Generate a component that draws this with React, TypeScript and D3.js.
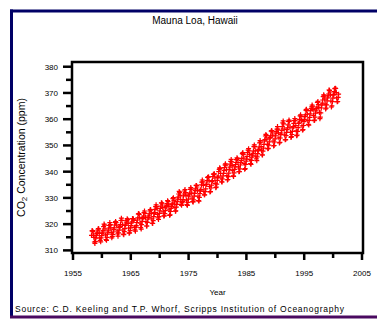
import React from 'react';
import * as d3 from 'd3';

// Mauna Loa monthly CO2 (ppm), one row per year, Jan..Dec (null = no sample)
const startYear = 1958;
const monthlyCO2: (number | null)[][] = [
  [null, null, 315.71, 317.45, 317.5, 317.1, 315.86, 314.93, 313.2, 312.66, 313.33, 314.67],
  [315.62, 316.38, 316.71, 317.72, 318.29, 318.15, 316.54, 314.8, 313.84, 313.26, 314.8, 315.58],
  [316.43, 316.97, 317.58, 319.02, 320.03, 319.59, 318.18, 315.91, 314.16, 313.83, 315.0, 316.19],
  [316.93, 317.7, 318.54, 319.48, 320.58, 319.77, 318.57, 316.79, 314.8, 315.38, 316.1, 317.01],
  [317.94, 318.56, 319.68, 320.63, 321.01, 320.55, 319.58, 317.4, 316.26, 315.42, 316.69, 317.69],
  [318.74, 319.08, 319.86, 321.39, 322.25, 321.47, 319.74, 317.77, 316.21, 315.99, 317.12, 318.31],
  [319.57, 320.07, 320.74, 321.4, 322.06, 321.73, 320.27, 318.54, 316.54, 316.71, 317.53, 318.55],
  [319.44, 320.44, 320.89, 322.13, 322.16, 321.87, 321.39, 318.81, 317.81, 317.3, 318.87, 319.42],
  [320.62, 321.59, 322.39, 323.87, 324.01, 323.75, 322.39, 320.37, 318.64, 318.1, 319.79, 321.08],
  [322.07, 322.5, 323.04, 324.42, 325.0, 324.09, 322.55, 320.92, 319.31, 319.31, 320.72, 321.96],
  [322.57, 323.15, 323.89, 325.02, 325.57, 325.36, 324.14, 322.03, 320.41, 320.25, 321.31, 322.84],
  [324.0, 324.42, 325.64, 326.66, 327.38, 326.7, 325.89, 323.67, 322.38, 321.78, 322.85, 324.12],
  [325.03, 325.99, 326.87, 328.13, 328.07, 327.66, 326.35, 324.69, 323.1, 323.16, 323.98, 325.13],
  [326.17, 326.68, 327.18, 327.78, 328.92, 328.57, 327.34, 325.46, 323.36, 323.57, 324.8, 326.01],
  [326.77, 327.63, 327.75, 329.72, 330.07, 329.09, 328.05, 326.32, 324.93, 325.06, 326.5, 327.55],
  [328.54, 329.56, 330.3, 331.5, 332.48, 332.07, 330.87, 329.31, 327.51, 327.18, 328.16, 328.64],
  [329.35, 330.71, 331.48, 332.65, 333.16, 332.06, 330.99, 329.17, 327.41, 327.2, 328.33, 329.5],
  [330.68, 331.41, 331.85, 333.29, 333.91, 333.4, 331.78, 329.88, 328.57, 328.46, 329.26, 330.67],
  [331.71, 332.76, 333.48, 334.78, 334.78, 334.17, 332.78, 330.64, 328.95, 328.77, 330.23, 331.69],
  [332.7, 333.24, 334.96, 336.04, 336.82, 336.13, 334.73, 332.52, 331.19, 331.19, 332.35, 333.47],
  [335.11, 335.26, 336.6, 337.77, 338.0, 337.99, 336.48, 334.37, 332.27, 332.41, 333.76, 334.83],
  [336.21, 336.64, 338.12, 339.02, 339.02, 339.2, 337.58, 335.55, 333.89, 334.14, 335.26, 336.71],
  [337.81, 338.29, 340.04, 340.86, 341.47, 341.26, 339.29, 337.6, 336.12, 336.08, 337.22, 338.34],
  [339.36, 340.51, 341.57, 342.56, 343.01, 342.47, 340.71, 338.52, 336.85, 337.01, 338.11, 339.4],
  [340.92, 341.69, 342.85, 343.92, 344.67, 343.78, 342.27, 340.35, 338.44, 338.19, 339.57, 340.89],
  [341.82, 342.75, 343.49, 344.55, 345.28, 344.94, 343.41, 341.82, 340.0, 340.01, 341.09, 342.53],
  [343.52, 344.33, 345.11, 346.88, 347.25, 346.62, 345.22, 343.11, 340.9, 341.18, 342.8, 344.04],
  [344.79, 345.82, 347.25, 348.17, 348.74, 347.97, 346.53, 344.63, 343.04, 342.8, 344.24, 345.56],
  [346.29, 346.96, 347.86, 349.55, 350.21, 349.54, 347.94, 345.91, 344.86, 344.17, 345.66, 346.9],
  [348.02, 348.47, 349.42, 350.99, 351.84, 351.25, 349.52, 348.1, 346.44, 346.36, 347.81, 348.96],
  [350.43, 351.73, 352.22, 353.59, 354.22, 353.79, 352.39, 350.44, 348.72, 348.88, 350.07, 351.34],
  [352.76, 353.07, 353.68, 355.42, 355.67, 355.13, 353.9, 351.67, 349.8, 349.99, 351.3, 352.53],
  [353.66, 354.7, 355.39, 356.2, 357.16, 356.22, 354.82, 352.91, 350.96, 351.18, 352.83, 354.21],
  [354.72, 355.75, 357.16, 358.6, 359.34, 358.24, 356.17, 354.03, 352.16, 352.21, 353.75, 354.99],
  [355.98, 356.72, 357.81, 359.15, 359.66, 359.25, 357.03, 355.0, 353.01, 353.31, 354.16, 355.4],
  [356.7, 357.16, 358.38, 359.46, 360.28, 359.6, 357.57, 355.52, 353.7, 353.98, 355.33, 356.8],
  [358.36, 358.91, 359.97, 361.26, 361.68, 360.95, 359.55, 357.49, 355.84, 356.0, 357.58, 359.04],
  [359.97, 361.0, 361.64, 363.45, 363.79, 363.26, 361.9, 359.46, 358.06, 357.75, 359.56, 360.7],
  [362.05, 363.25, 364.03, 364.72, 365.41, 364.97, 363.65, 361.49, 359.46, 359.6, 360.76, 362.33],
  [363.18, 364.0, 364.57, 366.35, 366.79, 365.62, 364.47, 362.51, 360.19, 360.77, 362.43, 364.28],
  [365.32, 366.15, 367.31, 368.61, 369.29, 368.87, 367.64, 365.77, 363.9, 364.23, 365.46, 366.97],
  [368.15, 368.87, 369.59, 371.14, 371.0, 370.35, 369.27, 366.94, 364.63, 365.12, 366.67, 368.01],
  [369.14, 369.46, 370.52, 371.66, 371.82, 371.7, 370.12, 368.12, 366.62, 366.73, 368.29, 369.53],
];

const xTicks = [1955, 1960, 1965, 1970, 1975, 1980, 1985, 1990, 1995, 2000, 2005];
const xLabels = [1955, 1965, 1975, 1985, 1995, 2005];
const yTicks = [310, 315, 320, 325, 330, 335, 340, 345, 350, 355, 360, 365, 370, 375, 380];
const yLabels = [310, 320, 330, 340, 350, 360, 370, 380];

const W = 377;
const H = 319;
const plot = { left: 72, right: 363, top: 62, bottom: 253 };
const font = 'Arial, "Liberation Sans", sans-serif';

export default function App() {
  const x = d3.scaleLinear().domain([1955, 2005]).range([73, 362]);
  const y = d3.scaleLinear().domain([309, 381.8]).range([plot.bottom, plot.top]);

  const points: { t: number; v: number }[] = [];
  monthlyCO2.forEach((row, i) => {
    row.forEach((v, m) => {
      if (v != null) points.push({ t: startYear + i + (m + 0.5) / 12, v });
    });
  });

  const crossPath = 'M-2.5,0H2.5M0,-2.5V2.5';

  return (
    <svg width={W} height={H} style={{ position: 'absolute', left: 0, top: 0, display: 'block', background: '#fff' }}>
      {/* frame */}
      <line x1={10} y1={11} x2={W} y2={11} stroke="#000066" strokeWidth={3} />
      <line x1={11.5} y1={9.5} x2={11.5} y2={316} stroke="#000066" strokeWidth={3} />
      <line x1={10} y1={317} x2={W} y2={317} stroke="#4a0a60" strokeWidth={3} />

      {/* title */}
      <text x={195} y={24} textAnchor="middle" fontFamily={font} fontSize={10} fill="#000">
        Mauna Loa, Hawaii
      </text>

      {/* data */}
      <g stroke="#ff0000" strokeWidth={1.2} fill="none">
        {points.map((p, i) => (
          <path key={i} d={crossPath} transform={`translate(${x(p.t).toFixed(1)},${y(p.v).toFixed(1)})`} />
        ))}
      </g>

      {/* plot box */}
      <rect
        x={plot.left}
        y={plot.top}
        width={plot.right - plot.left}
        height={plot.bottom - plot.top}
        fill="none"
        stroke="#000"
        strokeWidth={2.5}
      />

      {/* y axis */}
      {yTicks.map(t => {
        const major = yLabels.includes(t);
        return (
          <line
            key={'yt' + t}
            x1={plot.left - (major ? 9 : 6)}
            x2={plot.left}
            y1={y(t)}
            y2={y(t)}
            stroke="#000"
            strokeWidth={2.5}
          />
        );
      })}
      {yLabels.map(t => (
        <text key={'yl' + t} x={58} y={y(t) + 3} textAnchor="end" fontFamily={font} fontSize={8} fill="#000">
          {t}
        </text>
      ))}
      <text
        transform={`translate(25,${(plot.top + plot.bottom) / 2}) rotate(-90)`}
        textAnchor="middle"
        fontFamily={font}
        fontSize={10.5}
        fill="#000"
      >
        CO<tspan fontSize={8} dy={2}>2</tspan>
        <tspan dy={-2}> Concentration (ppm)</tspan>
      </text>

      {/* x axis */}
      {xTicks.map(t => {
        const major = xLabels.includes(t);
        return (
          <line
            key={'xt' + t}
            x1={x(t)}
            x2={x(t)}
            y1={plot.bottom}
            y2={plot.bottom + (major ? 7 : 5)}
            stroke="#000"
            strokeWidth={2.5}
          />
        );
      })}
      {xLabels.map(t => (
        <text key={'xl' + t} x={x(t)} y={276} textAnchor="middle" fontFamily={font} fontSize={8} fill="#000">
          {t}
        </text>
      ))}
      <text x={(plot.left + plot.right) / 2} y={295} textAnchor="middle" fontFamily={font} fontSize={8} fill="#000">
        Year
      </text>

      {/* footer */}
      <text x={15} y={312} fontFamily={font} fontSize={8.5} fill="#000" textLength={329} lengthAdjust="spacing">
        Source: C.D. Keeling and T.P. Whorf, Scripps Institution of Oceanography
      </text>
    </svg>
  );
}
